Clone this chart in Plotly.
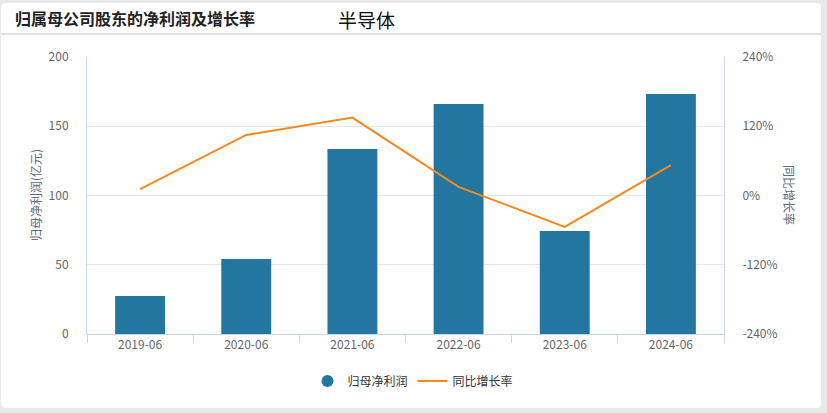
import plotly.graph_objects as go

categories = ["2019-06", "2020-06", "2021-06", "2022-06", "2023-06", "2024-06"]
net_profit = [27.4, 54.2, 133.6, 166.0, 74.4, 173.3]
growth_rate = [10.9, 104.9, 135.0, 14.9, -54.4, 52.5]
left_ticks = [0, 50, 100, 150, 200]
right_ticks = [-240, -120, 0, 120, 240]
right_tick_text = ["-240%", "-120%", "0%", "120%", "240%"]

W, H = 827, 413
L, R, T, B = 87, 724, 57, 334
PW, PH = R - L, B - T


def px(x):
    return (x - L) / PW


def py(y):
    return (B - y) / PH


FONT = "Noto Sans CJK SC, Microsoft YaHei, sans-serif"
BAR_COLOR = "#22769f"
LINE_COLOR = "#f5891f"
AXIS_COLOR = "#c8d4e6"

fig = go.Figure()
fig.add_trace(go.Bar(
    x=categories, y=net_profit, name="归母净利润",
    marker=dict(color=BAR_COLOR, line=dict(width=0)),
    showlegend=False, yaxis="y",
))
fig.add_trace(go.Scatter(
    x=[None], y=[None], mode="markers", name="归母净利润",
    marker=dict(symbol="circle", size=12, color=BAR_COLOR), showlegend=True,
))
fig.add_trace(go.Scatter(
    x=categories, y=growth_rate, name="同比增长率", mode="lines",
    line=dict(color=LINE_COLOR, width=2), yaxis="y2",
))

# white rounded panel
x0, x1, y0, y1 = px(1), px(821), py(408), py(3)
rx, ry = 5 / PW, 5 / PH
path = (f"M {x0+rx},{y1} L {x1-rx},{y1} Q {x1},{y1} {x1},{y1-ry} "
        f"L {x1},{y0+ry} Q {x1},{y0} {x1-rx},{y0} L {x0+rx},{y0} "
        f"Q {x0},{y0} {x0},{y0+ry} L {x0},{y1-ry} Q {x0},{y1} {x0+rx},{y1} Z")
shapes = [
    dict(type="path", xref="paper", yref="paper", path=path,
         fillcolor="white", line=dict(width=0), layer="below"),
    dict(type="line", xref="paper", yref="paper", x0=x0, x1=x1,
         y0=py(34), y1=py(34), line=dict(color="#c4c4c4", width=1), layer="below"),
]

annotations = [
    dict(text="<b>归属母公司股东的净利润及增长率</b>", xref="paper", yref="paper",
         x=px(13), y=py(18), xanchor="left", yanchor="middle", showarrow=False,
         font=dict(family=FONT, size=16, color="#222222")),
    dict(text="半导体", xref="paper", yref="paper",
         x=px(366), y=py(19), xanchor="center", yanchor="middle", showarrow=False,
         font=dict(family=FONT, size=19, color="#111111")),
    dict(text="归母净利润(亿元)", xref="paper", yref="paper", textangle=-90,
         x=px(35), y=py(195), xanchor="center", yanchor="middle", showarrow=False,
         font=dict(family=FONT, size=12, color="#5f6a80")),
    dict(text="同比增长率", xref="paper", yref="paper", textangle=90,
         x=px(790), y=py(195), xanchor="center", yanchor="middle", showarrow=False,
         font=dict(family=FONT, size=12, color="#5f6a80")),
]

fig.update_layout(
    width=W, height=H,
    margin=dict(l=L, r=W - R, t=T, b=H - B, pad=0),
    paper_bgcolor="#e9e9e9", plot_bgcolor="rgba(0,0,0,0)",
    font=dict(family=FONT, size=12, color="#666666"),
    bargap=0.53,
    shapes=shapes, annotations=annotations,
    showlegend=True,
    legend=dict(orientation="h", x=px(413), y=py(381), xanchor="center", yanchor="middle",
                font=dict(family=FONT, size=12, color="#333333"),
                bgcolor="rgba(0,0,0,0)", itemwidth=30, tracegroupgap=0),
    xaxis=dict(
        type="category", showgrid=False, showline=True, linecolor=AXIS_COLOR, linewidth=1,
        ticks="outside", tickson="boundaries", ticklen=8, tickcolor=AXIS_COLOR,
        tickfont=dict(family=FONT, size=12, color="#666666"), zeroline=False,
    ),
    yaxis=dict(
        range=[0, 200], tickvals=left_ticks, showgrid=True, gridcolor="#e6e6e6",
        showline=True, linecolor=AXIS_COLOR, linewidth=1, zeroline=False,
        ticks="", ticklabelstandoff=15,
        tickfont=dict(family=FONT, size=12, color="#666666"),
    ),
    yaxis2=dict(
        range=[-240, 240], tickvals=right_ticks, ticktext=right_tick_text,
        overlaying="y", side="right", showgrid=False,
        showline=True, linecolor=AXIS_COLOR, linewidth=1, zeroline=False,
        ticks="", ticklabelstandoff=15,
        tickfont=dict(family=FONT, size=12, color="#666666"),
    ),
)

fig.write_html("out.html")
